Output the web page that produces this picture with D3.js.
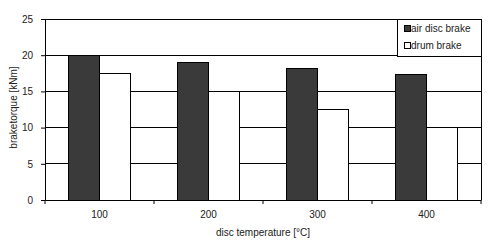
<!DOCTYPE html>
<html>
<head>
<meta charset="utf-8">
<script src="https://cdn.jsdelivr.net/npm/d3@7"></script>
<style>
  body { margin: 0; background: #fff; }
  text { font-family: "Liberation Sans", Arial, sans-serif; fill: #222; }
</style>
</head>
<body>
<div id="chart"></div>
<script>
var temps = ['100', '200', '300', '400'],
    series = ['air disc brake', 'drum brake'],
    airDisc = [20, 19, 18.2, 17.4],
    drum = [17.5, 15, 12.5, 10],
    yTicks = [0, 5, 10, 15, 20, 25],
    fills = ['#3a3a3a', '#ffffff'];

var width = 500, height = 249;
var margin = { top: 19, right: 19, bottom: 49, left: 45 };
var w = width - margin.left - margin.right,
    h = height - margin.top - margin.bottom;

var svg = d3.select('#chart').append('svg')
  .attr('width', width)
  .attr('height', height);

var g = svg.append('g')
  .attr('transform', 'translate(' + margin.left + ',' + margin.top + ')');

var x = d3.scaleBand().domain(temps).range([0, w]);
var x1 = d3.scaleBand().domain(series).range([0, x.bandwidth()]).paddingOuter(0.76).paddingInner(0);
var y = d3.scaleLinear().domain([0, 25]).range([h, 0]);

// gridlines
g.selectAll('line.grid')
  .data(yTicks.slice(1))
  .enter().append('line')
  .attr('class', 'grid')
  .attr('x1', 0).attr('x2', w)
  .attr('y1', function(d) { return y(d); })
  .attr('y2', function(d) { return y(d); })
  .attr('stroke', '#000').attr('stroke-width', 1)
  .attr('shape-rendering', 'crispEdges');

// right border
g.append('line')
  .attr('x1', w).attr('x2', w).attr('y1', 0).attr('y2', h)
  .attr('stroke', '#000').attr('shape-rendering', 'crispEdges');

// bars
var rows = temps.map(function(t, i) { return { t: t, vals: [airDisc[i], drum[i]] }; });
var groups = g.selectAll('g.cat')
  .data(rows)
  .enter().append('g')
  .attr('class', 'cat')
  .attr('transform', function(d) { return 'translate(' + x(d.t) + ',0)'; });

groups.selectAll('rect')
  .data(function(d) { return d.vals.map(function(v, i) { return { s: series[i], v: v, i: i }; }); })
  .enter().append('rect')
  .attr('x', function(d) { return x1(d.s); })
  .attr('width', x1.bandwidth())
  .attr('y', function(d) { return y(d.v); })
  .attr('height', function(d) { return h - y(d.v); })
  .attr('fill', function(d) { return fills[d.i]; })
  .attr('stroke', '#000')
  .attr('stroke-width', 1)
  .attr('shape-rendering', 'crispEdges');

// y axis
var yAxis = g.append('g')
  .call(d3.axisLeft(y).tickValues(yTicks).tickSize(4).tickPadding(8));
yAxis.select('.domain').attr('stroke', '#000');
yAxis.selectAll('text').style('font-size', '10px');

// x axis
var xAxis = g.append('g')
  .attr('transform', 'translate(0,' + h + ')')
  .call(d3.axisBottom(x).tickSize(0).tickPadding(11));
xAxis.select('.domain').attr('stroke', '#000');
xAxis.selectAll('text').style('font-size', '10px');
xAxis.selectAll('line.sep')
  .data(d3.range(temps.length + 1))
  .enter().append('line')
  .attr('class', 'sep')
  .attr('x1', function(i) { return i * x.step(); })
  .attr('x2', function(i) { return i * x.step(); })
  .attr('y1', 0).attr('y2', 4)
  .attr('stroke', '#000');

// axis titles
svg.append('text')
  .attr('x', margin.left + w / 2)
  .attr('y', 236)
  .attr('text-anchor', 'middle')
  .style('font-size', '10px')
  .text('disc temperature [°C]');

svg.append('text')
  .attr('transform', 'translate(17,' + (margin.top + h / 2 - 2) + ') rotate(-90)')
  .attr('text-anchor', 'middle')
  .style('font-size', '10px')
  .text('braketorque [kNm]');

// legend
var lg = g.append('g').attr('transform', 'translate(' + (w - 84) + ',0)');
lg.append('rect')
  .attr('width', 84).attr('height', 37)
  .attr('fill', '#fff').attr('stroke', '#000')
  .attr('shape-rendering', 'crispEdges');
series.forEach(function(s, i) {
  lg.append('rect')
    .attr('x', 7).attr('y', 6 + i * 17)
    .attr('width', 6).attr('height', 6)
    .attr('fill', fills[i]).attr('stroke', '#000')
    .attr('shape-rendering', 'crispEdges');
  lg.append('text')
    .attr('x', 14).attr('y', 13 + i * 17)
    .style('font-size', '10px')
    .text(s);
});
</script>
</body>
</html>
